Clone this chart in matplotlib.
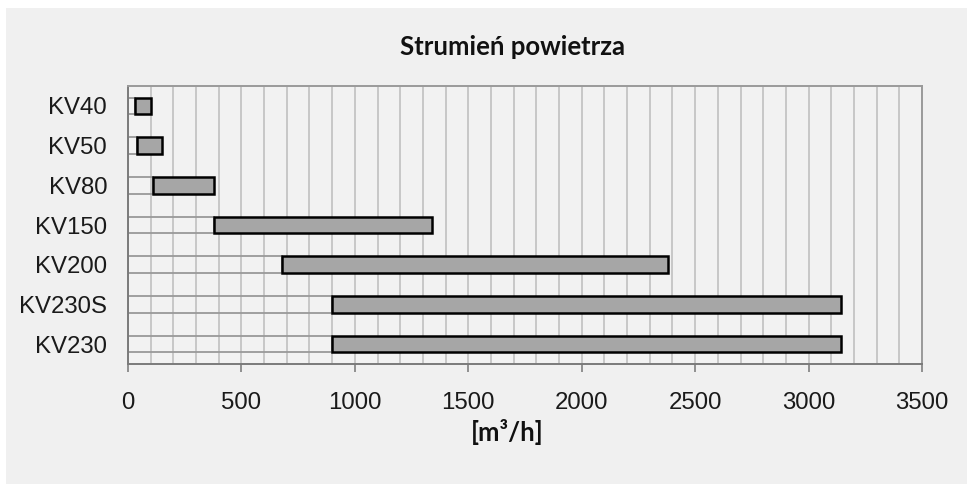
import matplotlib
matplotlib.use("Agg")
import matplotlib.pyplot as plt
from matplotlib.patches import Rectangle
import numpy as np

categories = ["KV40", "KV50", "KV80", "KV150", "KV200", "KV230S", "KV230"]
flow_min = [30, 40, 110, 380, 680, 900, 900]
flow_max = [100, 150, 380, 1340, 2380, 3145, 3145]
x_ticks = [0, 500, 1000, 1500, 2000, 2500, 3000, 3500]
title = "Strumień powietrza"
xlabel = "[m³/h]"

W, H = 967, 484
fig = plt.figure(figsize=(W / 100, H / 100), dpi=100)
fig.patch.set_facecolor("white")
fig.patches.append(Rectangle((6 / W, 0), 1 - 6 / W, 1 - 8 / H,
                             transform=fig.transFigure, facecolor="#f0f0f0",
                             edgecolor="none", zorder=-10))

ax = fig.add_axes([128 / W, 1 - 364 / H, (922 - 128) / W, (364 - 86) / H])
ax.set_zorder(1)
ax.set_facecolor("#f2f2f2")

y = np.arange(len(categories))
starts = np.array(flow_min)
ends = np.array(flow_max)
bh = 0.42
ax.barh(y, starts, height=bh, left=0, facecolor="none",
        edgecolor="#999999", linewidth=1.3, zorder=2)
ax.barh(y, ends - starts, height=bh, left=starts, facecolor="#a6a6a6",
        edgecolor="black", linewidth=1.8, zorder=3)

ax.set_xlim(0, 3500)
ax.set_ylim(len(categories) - 0.5, -0.5)
ax.set_xticks(x_ticks)
ax.set_xticks(np.arange(0, 3501, 100), minor=True)
ax.set_yticks(y)
ax.set_yticklabels(categories)
ax.grid(True, axis="x", which="both", color="#c4c4c4", linewidth=1.3, zorder=1)
ax.set_axisbelow(True)

lab_font = "Liberation Sans"
for lbl in ax.get_xticklabels() + ax.get_yticklabels():
    lbl.set_fontfamily(lab_font)
    lbl.set_fontsize(17.3)
    lbl.set_color("#1a1a1a")
ax.tick_params(axis="x", which="major", length=6, width=1.2, color="#808080", pad=14)
ax.tick_params(axis="x", which="minor", length=0)
ax.tick_params(axis="y", length=0, pad=15)

for s in ["left", "bottom"]:
    ax.spines[s].set_color("#7a7a7a")
    ax.spines[s].set_linewidth(1.4)
for s in ["top", "right"]:
    ax.spines[s].set_color("#9a9a9a")
    ax.spines[s].set_linewidth(1.4)

fig.text(512 / W, 1 - 47 / H, title, ha="center", va="center",
         fontsize=18.5, fontweight="bold", fontfamily="Lato", color="#111111")
fig.text(507 / W, 1 - 432 / H, xlabel, ha="center", va="center",
         fontsize=18.5, fontweight="bold", fontfamily="Lato", color="#111111")

fig.savefig("out.png", dpi=100)
